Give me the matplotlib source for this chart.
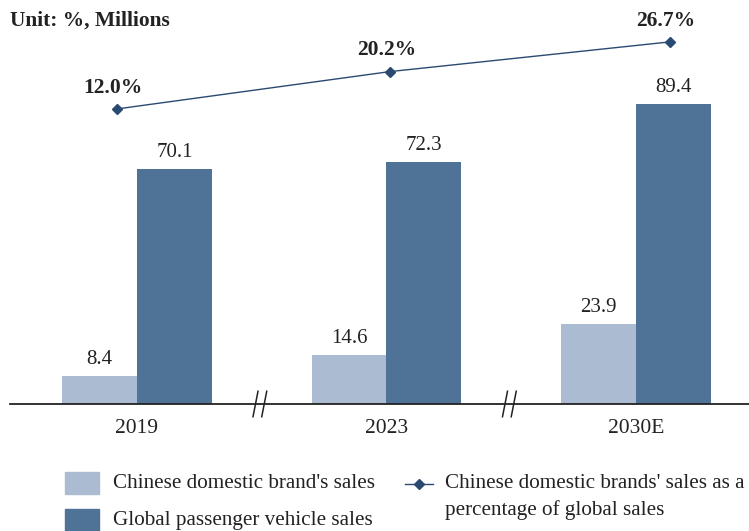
import matplotlib.pyplot as plt
import numpy as np
from matplotlib.lines import Line2D
from matplotlib.patches import Rectangle

plt.rcParams["font.family"] = ["Liberation Serif", "DejaVu Serif"]

years = ["2019", "2023", "2030E"]
domestic_sales = [8.4, 14.6, 23.9]
global_sales = [70.1, 72.3, 89.4]
share_pct = [12.0, 20.2, 26.7]
# horizontal placement of the share markers relative to each group centre
share_offset = [-0.08, 0.016, 0.136]

LIGHT = "#AABBD2"
DARK = "#4F7396"
NAVY = "#2B4A72"
TXT = "#222222"

fig = plt.figure(figsize=(7.49, 5.31), dpi=100)
W, H = 749, 531
ax = fig.add_axes([10 / W, 1 - 404 / H, 739 / W, 384 / H])

x = np.arange(len(years))
bw = 0.30
b1 = ax.bar(x - bw / 2, domestic_sales, bw, color=LIGHT)
b2 = ax.bar(x + bw / 2, global_sales, bw, color=DARK)

for bars, vals in ((b1, domestic_sales), (b2, global_sales)):
    for bar, v in zip(bars, vals):
        ax.annotate(f"{v:.1f}", (bar.get_x() + bar.get_width() / 2, v),
                    xytext=(0, 5), textcoords="offset points",
                    ha="center", va="bottom", fontsize=15, color=TXT)

ax.set_xlim(-0.509, 2.453)
ax.set_ylim(0, 114.6)
for s in ("top", "right", "left"):
    ax.spines[s].set_visible(False)
ax.spines["bottom"].set_linewidth(1.3)
ax.spines["bottom"].set_color(TXT)
ax.set_yticks([])
ax.set_xticks(x)
ax.set_xticklabels(years, fontsize=15.5, color=TXT)
ax.tick_params(axis="x", length=0, pad=11)

# axis break marks
for mid in (0.5, 1.5):
    for dx in (-0.025, 0.01):
        ax.plot([mid + dx - 0.01, mid + dx + 0.01], [-3.8, 3.8],
                color=TXT, lw=1.1, clip_on=False)

# share line on secondary axis
ax2 = ax.twinx()
ax2.set_ylim(-52.7, 31.5)
ax2.axis("off")
xs = x + np.array(share_offset)
ax2.plot(xs, share_pct, color=NAVY, lw=1.0, marker="D", markersize=5.5,
         markerfacecolor=NAVY, markeredgecolor=NAVY)
for xi, v in zip(xs, share_pct):
    ax2.annotate(f"{v:.1f}%", (xi, v), xytext=(-3, 8), textcoords="offset points",
                 ha="center", va="bottom", fontsize=15.5, fontweight="bold",
                 color=TXT)

fig.text(10 / W, 1 - 21 / H, "Unit: %, Millions", fontsize=15.4, fontweight="bold",
         va="center", ha="left", color=TXT)

# legend
fs = 15.2
fig.add_artist(Rectangle((65 / W, 1 - 494 / H), 34 / W, 22 / H,
                         transform=fig.transFigure, color=LIGHT))
fig.add_artist(Rectangle((65 / W, 1 - 531 / H), 34 / W, 22 / H,
                         transform=fig.transFigure, color=DARK))
fig.text(113 / W, 1 - 484 / H, "Chinese domestic brand's sales", fontsize=fs,
         va="center", color=TXT)
fig.text(113 / W, 1 - 521 / H, "Global passenger vehicle sales", fontsize=fs,
         va="center", color=TXT)
fig.add_artist(Line2D([405 / W, 433 / W], [1 - 484 / H, 1 - 484 / H],
                      transform=fig.transFigure, color=NAVY, lw=1.0))
fig.add_artist(Line2D([419 / W], [1 - 484 / H], transform=fig.transFigure,
                      color=NAVY, marker="D", markersize=5, lw=0))
fig.text(445 / W, 1 - 484 / H, "Chinese domestic brands' sales as a", fontsize=fs,
         va="center", color=TXT)
fig.text(445 / W, 1 - 510 / H, "percentage of global sales", fontsize=fs,
         va="center", color=TXT)

fig.savefig("out.png", dpi=100)
